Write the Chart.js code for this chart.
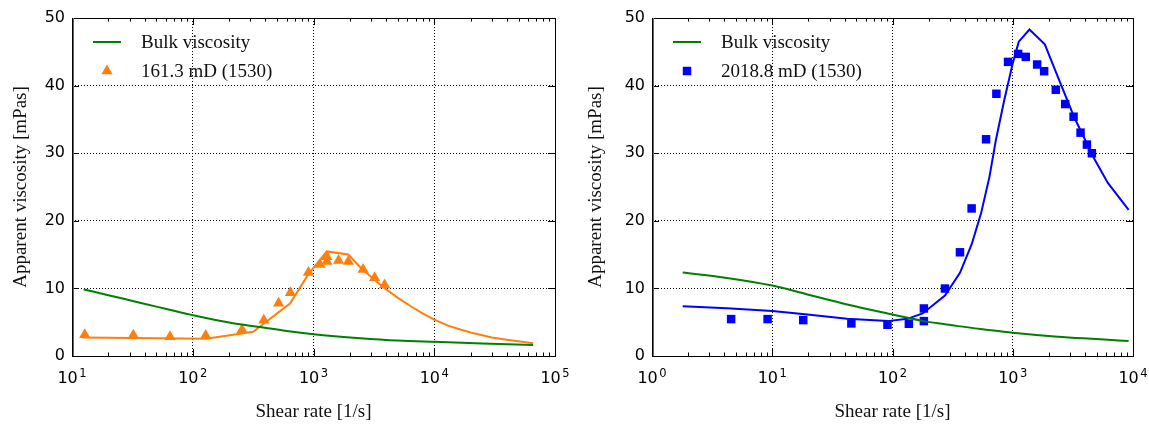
<!DOCTYPE html>
<html>
<head>
<meta charset="utf-8">
<script src="https://cdn.jsdelivr.net/npm/chart.js@4.4.0/dist/chart.umd.min.js"></script>
<style>
  html, body { margin: 0; padding: 0; background: #fff; }
  #wrap { position: relative; width: 1149px; height: 425px; overflow: hidden; }
  .c { position: absolute; top: 0; }
</style>
</head>
<body>
<div id="wrap">
  <canvas id="left" class="c" width="575" height="425" style="left:0px;width:575px;height:425px"></canvas>
  <canvas id="right" class="c" width="574" height="425" style="left:575px;width:574px;height:425px"></canvas>
</div>
<script>
// ---------------- data ----------------
// Left panel: 161.3 mD (1530)
const leftBulkX  = [12.5, 20, 30, 50, 100, 200, 359, 600, 1000, 2450, 5000, 10000, 25000, 65900];
const leftBulkY  = [9.85, 9.0, 8.25, 7.3, 6.05, 4.95, 4.28, 3.7, 3.23, 2.64, 2.29, 2.09, 1.85, 1.64];
const leftModelX = [12.1, 129, 316, 639, 908, 1291, 1944, 2530, 3830, 5000, 6390, 8000, 10000, 13000, 16700, 20000, 30000, 40000, 65900];
const leftModelY = [2.74, 2.54, 3.58, 7.76, 12.1, 15.47, 15.02, 12.84, 10.1, 8.6, 7.36, 6.3, 5.37, 4.5, 3.88, 3.48, 2.75, 2.39, 1.89];
const leftDataX  = [12.75, 32.2, 64.8, 128, 256, 388, 514, 643, 908, 1130, 1291, 1291, 1614, 1944, 2576, 3205, 3880];
const leftDataY  = [3.13, 3.08, 2.84, 3.03, 3.88, 5.27, 7.81, 9.35, 12.34, 13.53, 13.98, 14.7, 14.13, 13.98, 12.79, 11.59, 10.5];

// Right panel: 2018.8 mD (1530)
const rightBulkX  = [1.8, 4.2, 10, 19.6, 42, 91, 182, 273, 350, 600, 1000, 2371, 5000, 9200];
const rightBulkY  = [12.34, 11.55, 10.42, 9.1, 7.62, 6.29, 5.16, 4.7, 4.42, 3.9, 3.44, 2.85, 2.5, 2.21];
const rightModelX = [1.8, 4.2, 10, 19.6, 42, 91, 133, 178, 273, 364, 455, 545, 640, 725, 851, 1000, 1122, 1377, 1848, 2371, 3266, 4790, 6180, 9200];
const rightModelY = [7.37, 7.08, 6.64, 6.15, 5.5, 5.16, 5.5, 6.3, 8.95, 12.3, 16.5, 21.1, 26.5, 32, 37.9, 43.3, 46.5, 48.3, 46.1, 41.3, 35.2, 29.1, 25.6, 21.6];
const rightDataX  = [4.55, 9.15, 18.1, 45.5, 90.8, 136.8, 182.4, 182.4, 273, 364, 455, 600, 731, 914, 1108, 1283, 1595, 1824, 2281, 2729, 3205, 3663, 4138, 4550];
const rightDataY  = [5.46, 5.46, 5.31, 4.82, 4.62, 4.77, 7.03, 5.16, 9.98, 15.34, 21.83, 32.06, 38.79, 43.51, 44.69, 44.25, 43.12, 42.13, 39.38, 37.27, 35.4, 33.04, 31.27, 29.99];

// tick labels
const leftXTicks  = [10, 100, 1000, 10000, 100000];
const rightXTicks = [1, 10, 100, 1000, 10000];
const yTicks      = [0, 10, 20, 30, 40, 50];

const legendLabels = {
  bulk: 'Bulk viscosity',
  left: '161.3 mD (1530)',
  right: '2018.8 mD (1530)'
};
const xTitle = 'Shear rate [1/s]';
const yTitle = 'Apparent viscosity [mPas]';

// ---------------- helpers ----------------
function pts(xs, ys) { return xs.map((x, i) => ({x: x, y: ys[i]})); }

const GREEN = '#008000', ORANGE = '#ff7f0e', BLUE = '#0000ff';
const SERIF = '"Liberation Serif", "DejaVu Serif", serif';
const SANS = '"DejaVu Sans", sans-serif';

const framePlugin = {
  id: 'frame',
  afterDraw(chart) {
    const {ctx, chartArea: a, scales} = chart;
    const xs = scales.x, ys = scales.y;
    ctx.save();
    ctx.strokeStyle = '#000';
    ctx.lineWidth = 1;
    // minor & major ticks on x (top and bottom, inward)
    const lo = Math.round(Math.log10(xs.min)), hi = Math.round(Math.log10(xs.max));
    ctx.beginPath();
    for (let e = lo; e <= hi; e++) {
      const d = Math.pow(10, e);
      const px = Math.round(xs.getPixelForValue(d)) + 0.5;
      ctx.moveTo(px, a.bottom); ctx.lineTo(px, a.bottom - 7);
      ctx.moveTo(px, a.top); ctx.lineTo(px, a.top + 7);
      if (e < hi) {
        for (let k = 2; k <= 9; k++) {
          const p = Math.round(xs.getPixelForValue(k * d)) + 0.5;
          ctx.moveTo(p, a.bottom); ctx.lineTo(p, a.bottom - 3.5);
          ctx.moveTo(p, a.top); ctx.lineTo(p, a.top + 3.5);
        }
      }
    }
    yTicks.forEach(v => {
      const py = Math.round(ys.getPixelForValue(v)) + 0.5;
      ctx.moveTo(a.left, py); ctx.lineTo(a.left + 7, py);
      ctx.moveTo(a.right, py); ctx.lineTo(a.right - 7, py);
    });
    ctx.stroke();
    // frame
    ctx.strokeRect(Math.round(a.left) + 0.5, Math.round(a.top) + 0.5,
                   Math.round(a.right - a.left), Math.round(a.bottom - a.top));
    ctx.strokeStyle = '#666';
    ctx.beginPath();
    ctx.moveTo(Math.round(a.left) + 1.5, a.top); ctx.lineTo(Math.round(a.left) + 1.5, a.bottom);
    ctx.stroke();

    // x tick labels: 10 with raised exponent
    ctx.fillStyle = '#000';
    ctx.textBaseline = 'alphabetic';
    xs.ticks.forEach(t => {
      const e = String(Math.round(Math.log10(t.value)));
      ctx.font = '16px ' + SANS;
      const wb = ctx.measureText('10').width;
      ctx.font = '11.5px ' + SANS;
      const we = ctx.measureText(e).width;
      const gap = 1.5;
      const total = wb + gap + we;
      const x0 = xs.getPixelForValue(t.value) - total / 2;
      ctx.font = '16px ' + SANS;
      ctx.textAlign = 'left';
      ctx.fillText('10', x0, a.bottom + 27);
      ctx.font = '11.5px ' + SANS;
      ctx.fillText(e, x0 + wb + gap, a.bottom + 20.5);
    });
    ctx.restore();
  }
};

const legendPlugin = {
  id: 'insideLegend',
  afterDraw(chart, args, opts) {
    const {ctx, chartArea: a} = chart;
    ctx.save();
    ctx.font = '19px ' + SERIF;
    ctx.fillStyle = '#111';
    ctx.textBaseline = 'middle';
    (opts.items || []).forEach((it, i) => {
      const ds = chart.data.datasets[it.dataset];
      const y = a.top + 24 + i * 29;
      if (it.kind === 'line') {
        ctx.strokeStyle = ds.borderColor;
        ctx.lineWidth = ds.borderWidth;
        ctx.beginPath();
        ctx.moveTo(a.left + 21, y); ctx.lineTo(a.left + 49, y);
        ctx.stroke();
      } else {
        ctx.fillStyle = ds.backgroundColor;
        const cx = a.left + 35;
        ctx.beginPath();
        if (ds.pointStyle === 'triangle') {
          const r = ds.pointRadius;
          ctx.moveTo(cx, y - r);
          ctx.lineTo(cx + r * 0.866, y + r * 0.5);
          ctx.lineTo(cx - r * 0.866, y + r * 0.5);
          ctx.closePath();
        } else {
          const s = ds.pointRadius * Math.SQRT1_2;
          ctx.rect(cx - s, y - s, 2 * s, 2 * s);
        }
        ctx.fill();
        ctx.fillStyle = '#111';
      }
      ctx.fillText(ds.label, a.left + 69, y + 1);
    });
    ctx.restore();
  }
};

function makeChart(id, cfg) {
  return new Chart(document.getElementById(id), {
    type: 'scatter',
    data: { datasets: cfg.datasets },
    options: {
      responsive: false,
      animation: false,
      devicePixelRatio: 1,
      layout: { padding: { left: 0, right: cfg.padRight, top: 18, bottom: 0 } },
      plugins: {
        legend: { display: false },
        tooltip: { enabled: false },
        insideLegend: { items: cfg.legendItems }
      },
      scales: {
        x: {
          type: 'logarithmic',
          min: cfg.xTicks[0],
          max: cfg.xTicks[cfg.xTicks.length - 1],
          afterBuildTicks: s => { s.ticks = cfg.xTicks.map(v => ({value: v})); },
          afterFit: s => { s.height = 69; },
          ticks: { display: false, autoSkip: false, maxRotation: 0 },
          grid: { color: '#000', lineWidth: 1, drawTicks: false },
          border: { display: false, dash: [1, 2] },
          title: {
            display: true, text: xTitle, color: '#111',
            font: { family: SERIF, size: 19 },
            padding: { top: 0, bottom: 2 }
          }
        },
        y: {
          min: 0, max: 50,
          afterBuildTicks: s => { s.ticks = yTicks.map(v => ({value: v})); },
          afterFit: s => { s.width = cfg.yWidth; },
          ticks: {
            padding: 7, color: '#000', font: { family: SANS, size: 16 }
          },
          grid: { color: '#000', lineWidth: 1, drawTicks: false },
          border: { display: false, dash: [1, 2] },
          title: {
            display: true, text: yTitle, color: '#111',
            font: { family: SERIF, size: 19 },
            padding: { top: 10, bottom: 0 }
          }
        }
      }
    },
    plugins: [framePlugin, legendPlugin]
  });
}

makeChart('left', {
  xTicks: leftXTicks, yWidth: 72, padRight: 20,
  datasets: [
    { label: legendLabels.bulk, data: pts(leftBulkX, leftBulkY), showLine: true,
      borderColor: GREEN, backgroundColor: GREEN, borderWidth: 2, pointRadius: 0,
      cubicInterpolationMode: 'monotone' },
    { label: 'model', data: pts(leftModelX, leftModelY), showLine: true,
      borderColor: ORANGE, backgroundColor: ORANGE, borderWidth: 2, pointRadius: 0, tension: 0 },
    { label: legendLabels.left, data: pts(leftDataX, leftDataY), showLine: false,
      pointStyle: 'triangle', pointRadius: 6.5, borderWidth: 0,
      backgroundColor: ORANGE, borderColor: ORANGE }
  ],
  legendItems: [ { dataset: 0, kind: 'line' }, { dataset: 2, kind: 'marker' } ]
});

makeChart('right', {
  xTicks: rightXTicks, yWidth: 77, padRight: 16,
  datasets: [
    { label: legendLabels.bulk, data: pts(rightBulkX, rightBulkY), showLine: true,
      borderColor: GREEN, backgroundColor: GREEN, borderWidth: 2, pointRadius: 0,
      cubicInterpolationMode: 'monotone' },
    { label: 'model', data: pts(rightModelX, rightModelY), showLine: true,
      borderColor: BLUE, backgroundColor: BLUE, borderWidth: 2, pointRadius: 0, tension: 0 },
    { label: legendLabels.right, data: pts(rightDataX, rightDataY), showLine: false,
      pointStyle: 'rect', pointRadius: 6, borderWidth: 0,
      backgroundColor: BLUE, borderColor: BLUE }
  ],
  legendItems: [ { dataset: 0, kind: 'line' }, { dataset: 2, kind: 'marker' } ]
});
</script>
</body>
</html>
